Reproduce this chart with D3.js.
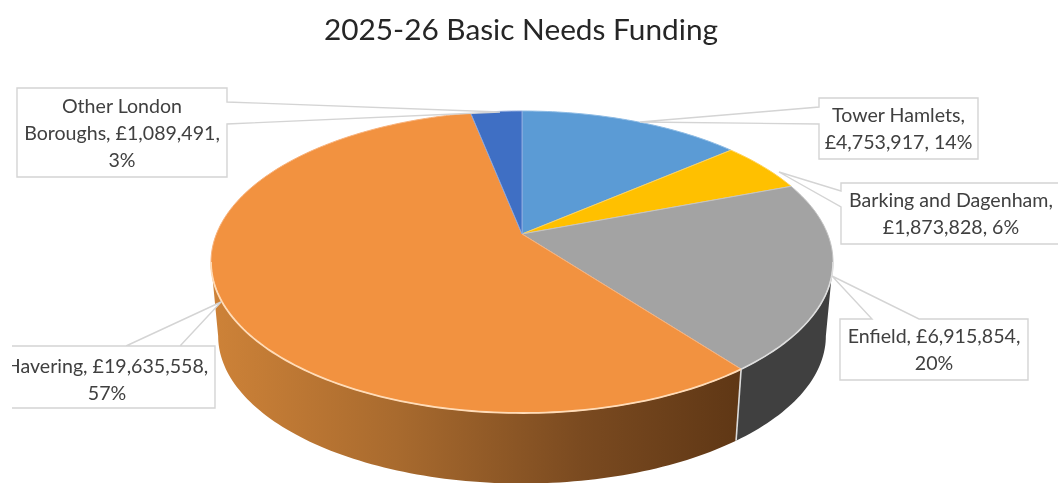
<!DOCTYPE html>
<html>
<head>
<meta charset="utf-8">
<script src="https://cdn.jsdelivr.net/npm/d3@7"></script>
<style>
  html, body { margin: 0; padding: 0; background: #fff; overflow: hidden; }
  svg { display: block; filter: blur(0.55px); }
  text { font-family: Lato, "Open Sans", sans-serif; fill: #404040; }
</style>
</head>
<body>
<div id="chart"></div>
<script>
// data
const categories = ["Tower Hamlets", "Barking and Dagenham", "Enfield", "Havering", "Other London Boroughs"];
const values = [4753917, 1873828, 6915854, 19635558, 1089491];
const percentLabels = ["14%", "6%", "20%", "57%", "3%"];
const topColors = ["#5b9bd5", "#ffc000", "#a3a3a3", "#f29240", "#3f6fc4"];
const rimColors = ["#8dbbe4", "#ffd35c", "#c4c4c4", "#f8b27c", "#8ba6dd"];
const sideColors = [null, null, "#404040", "url(#haveringSide)", null];

const svgWidth = 1058;
const svgHeight = 483;

const svg = d3.select("#chart")
    .append("svg")
    .attr("width", svgWidth)
    .attr("height", svgHeight);

svg.append("text")
    .attr("x", 521)
    .attr("y", 40)
    .attr("text-anchor", "middle")
    .attr("font-size", 29.8)
    .style("fill", "#262626")
    .text("2025-26 Basic Needs Funding");

// perspective disc: circle angle -> point on the tilted ellipse
const centerX = 522;
const apexShift = -28;     // pie centre sits above the middle of the ellipse
const radiusY = 151;
const radiusX = 311;
const k = apexShift / radiusY;
const a = radiusX * Math.sqrt(1 - k * k);

function project(angle, r, cy, scale) {
    const x = r * Math.sin(angle);
    const y = -r * Math.cos(angle);
    const w = 1 + k * y;
    return [
        centerX + scale * a * x / w,
        cy + scale * (radiusY * y + apexShift) / w
    ];
}

const topY = 262;
const bottomY = 336;
const bottomScale = 0.977;

const pie = d3.pie().sort(null).value(d => d);
const arcs = pie(values);
const line = d3.line();

function arcPoints(start, end, r, cy, scale) {
    const n = Math.max(2, Math.ceil((end - start) / 0.02));
    return d3.range(n + 1).map(i => project(start + (end - start) * i / n, r, cy, scale));
}

const defs = svg.append("defs");
const grad = defs.append("linearGradient")
    .attr("id", "haveringSide")
    .attr("gradientUnits", "userSpaceOnUse")
    .attr("x1", 214).attr("x2", 741)
    .attr("y1", 0).attr("y2", 0);
[[0, "#cd8238"], [0.35, "#a86a2e"], [0.7, "#7a4a20"], [1, "#5f3715"]].forEach(s => {
    grad.append("stop").attr("offset", s[0]).attr("stop-color", s[1]);
});

defs.append("clipPath").attr("id", "havClip")
    .append("rect").attr("x", 12).attr("y", 0).attr("width", svgWidth).attr("height", svgHeight);

// side wall, only the part facing the viewer
const wallFrom = Math.acos(k);
const wallTo = 2 * Math.PI - wallFrom;

svg.append("g").selectAll("path")
    .data(arcs.filter((d, i) => sideColors[i]))
    .enter()
    .append("path")
    .attr("d", d => {
        const s = Math.max(d.startAngle, wallFrom);
        const e = Math.min(d.endAngle, wallTo);
        const upper = arcPoints(s, e, 1, topY, 1);
        const lower = arcPoints(s, e, 1, bottomY, bottomScale).reverse();
        return line(upper.concat(lower)) + "Z";
    })
    .attr("fill", d => sideColors[d.index]);

// light seam between the two walls
const seam = arcs[2].endAngle;
svg.append("path")
    .attr("d", line([project(seam, 1, topY, 1), project(seam, 1, bottomY, bottomScale)]))
    .attr("stroke", "#dcdcdc")
    .attr("stroke-width", 1.6)
    .attr("fill", "none");

// top face
svg.append("g").selectAll("path")
    .data(arcs)
    .enter()
    .append("path")
    .attr("d", d => {
        const pts = arcPoints(d.startAngle, d.endAngle, 1, topY, 1);
        return line([project(0, 0, topY, 1)].concat(pts)) + "Z";
    })
    .attr("fill", d => topColors[d.index])
    .attr("stroke", d => rimColors[d.index])
    .attr("stroke-width", 1)
    .attr("stroke-linejoin", "round");

// bright rim where the top face meets the wall
svg.append("path")
    .attr("d", line(arcPoints(arcs[3].startAngle, wallTo, 1, topY, 1)))
    .attr("fill", "none")
    .attr("stroke", "#ffdcb8")
    .attr("stroke-width", 1.8);
svg.append("path")
    .attr("d", line(arcPoints(wallFrom, arcs[2].endAngle, 1, topY, 1)))
    .attr("fill", "none")
    .attr("stroke", "#dedede")
    .attr("stroke-width", 1.6);

// callouts: box, wedge side and tip are the annotation layout
const callouts = [
    { i: 0, box: [819, 98, 978, 159], wedge: [[819, 107], [640, 122], [819, 124]], side: "left", cx: 898.5, dy: 0,
      lines: d => ["Tower Hamlets,", d.money + ", " + d.pct] },
    { i: 1, box: [841, 183, 1062, 244], wedge: [[841, 191], [779, 172], [841, 207]], side: "left", cx: 951, dy: 0,
      lines: d => ["Barking and Dagenham,", d.money + ", " + d.pct] },
    { i: 2, box: [840, 319, 1028, 380], wedge: [[919, 319], [832, 276], [872, 319]], side: "top", cx: 934, dy: 0,
      lines: d => ["Enfield, " + d.money + ",", d.pct] },
    { i: 3, box: [4, 346, 215, 408], wedge: [[126, 346], [221, 302], [180, 346]], side: "top", cx: 107, dy: 2,
      lines: d => ["Havering, " + d.money + ",", d.pct] },
    { i: 4, box: [17, 88, 227, 177], wedge: [[227, 102], [500, 112], [227, 124]], side: "right", cx: 122, dy: 0,
      lines: d => ["Other London", "Boroughs, " + d.money + ",", d.pct] }
];

const money = d3.format(",");

callouts.forEach(c => {
    const [x0, y0, x1, y1] = c.box;
    let pts;
    if (c.side === "left") {
        pts = [[x0, y0], [x1, y0], [x1, y1], [x0, y1], c.wedge[2], c.wedge[1], c.wedge[0]];
    } else if (c.side === "right") {
        pts = [[x0, y0], [x1, y0], c.wedge[0], c.wedge[1], c.wedge[2], [x1, y1], [x0, y1]];
    } else {
        pts = [[x0, y0], c.wedge[2], c.wedge[1], c.wedge[0], [x1, y0], [x1, y1], [x0, y1]];
    }
    const g = svg.append("g").attr("clip-path", "url(#havClip)");
    g.append("path")
        .attr("d", line(pts) + "Z")
        .attr("fill", "#fff")
        .attr("stroke", "#d4d4d4")
        .attr("stroke-width", 1.4);

    const textLines = c.lines({ money: "£" + money(values[c.i]), pct: percentLabels[c.i] });
    const lineStep = 27;
    const firstY = (y0 + y1) / 2 - (textLines.length - 1) * lineStep / 2 + 7 + c.dy;
    g.selectAll("text")
        .data(textLines)
        .enter()
        .append("text")
        .attr("x", c.cx)
        .attr("y", (d, j) => firstY + j * lineStep)
        .attr("text-anchor", "middle")
        .attr("font-size", 19.6)
        .text(d => d);
});
</script>
</body>
</html>
